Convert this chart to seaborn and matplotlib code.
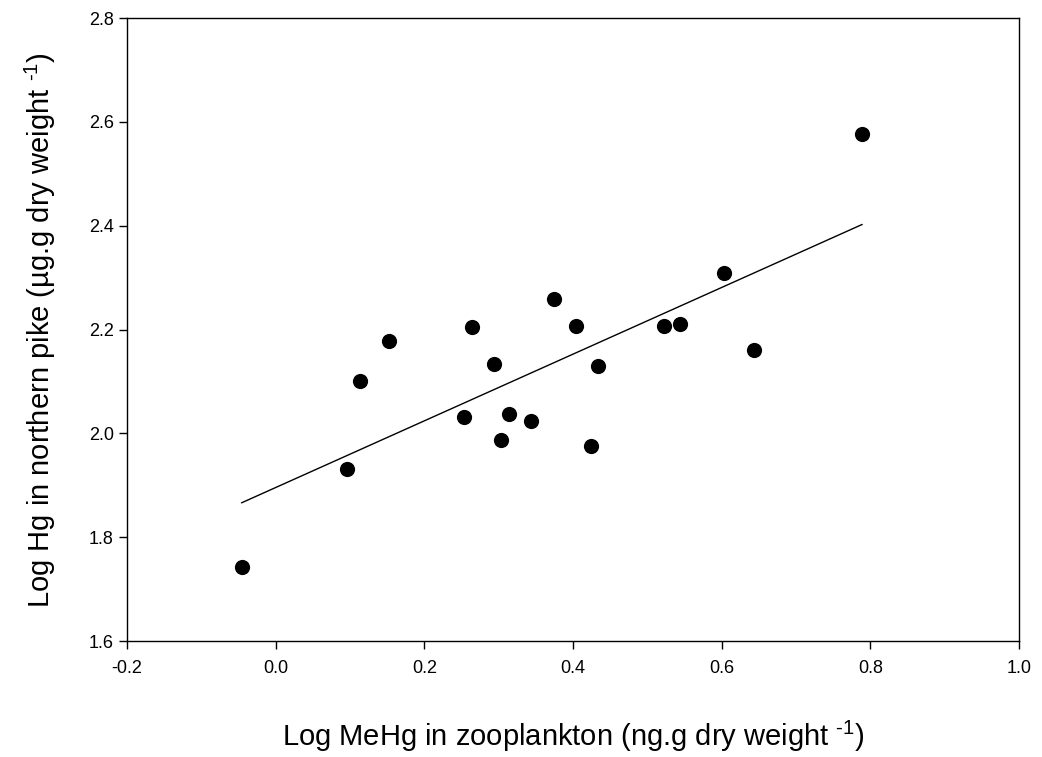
import matplotlib
matplotlib.use("Agg")
import matplotlib.pyplot as plt
import seaborn as sns
import numpy as np
import pandas as pd

# log MeHg in zooplankton vs log Hg in northern pike
log_mehg_zoo = [-0.046, 0.096, 0.113, 0.153, 0.264, 0.253, 0.293, 0.303, 0.314,
                0.344, 0.374, 0.404, 0.424, 0.434, 0.523, 0.544, 0.603, 0.644, 0.789]
log_hg_pike = [1.742, 1.931, 2.100, 2.177, 2.205, 2.031, 2.134, 1.987, 2.037,
               2.024, 2.258, 2.207, 1.976, 2.130, 2.206, 2.211, 2.309, 2.160, 2.577]

x_ticks = [-0.2, 0.0, 0.2, 0.4, 0.6, 0.8, 1.0]
y_ticks = [1.6, 1.8, 2.0, 2.2, 2.4, 2.6, 2.8]

df = pd.DataFrame({"zoo": log_mehg_zoo, "pike": log_hg_pike})

sns.set_style("ticks")
plt.rcParams["font.family"] = ["Liberation Sans", "DejaVu Sans"]
plt.rcParams["mathtext.fontset"] = "custom"
plt.rcParams["mathtext.rm"] = "Liberation Sans"

fig = plt.figure(figsize=(10.42, 7.57), dpi=100)
ax = fig.add_axes([0.1219, 0.1532, 0.8561, 0.8230])

sns.regplot(data=df, x="zoo", y="pike", ax=ax, ci=None, color="black",
            scatter_kws={"s": 120, "alpha": 1, "linewidths": 0},
            line_kws={"linewidth": 1.0})

ax.set_xlim(-0.2, 1.0)
ax.set_ylim(1.6, 2.8)
ax.set_xticks(x_ticks)
ax.set_yticks(y_ticks)
ax.set_xticklabels([f"{t:.1f}" for t in x_ticks])
ax.set_yticklabels([f"{t:.1f}" for t in y_ticks])
ax.tick_params(direction="out", length=6, width=1, labelsize=13, colors="black")
ax.tick_params(axis="x", pad=8)
for s in ax.spines.values():
    s.set_linewidth(1)
    s.set_color("black")

sup = "$^{\\mathregular{\u20101}}$"
ax.set_xlabel("Log MeHg in zooplankton (ng.g dry weight " + sup + ")",
              fontsize=21, labelpad=30, color="black")
ax.set_ylabel("Log Hg in northern pike (µg.g dry weight " + sup + ")",
              fontsize=21, labelpad=22, color="black")

fig.savefig("out.png", dpi=100)
